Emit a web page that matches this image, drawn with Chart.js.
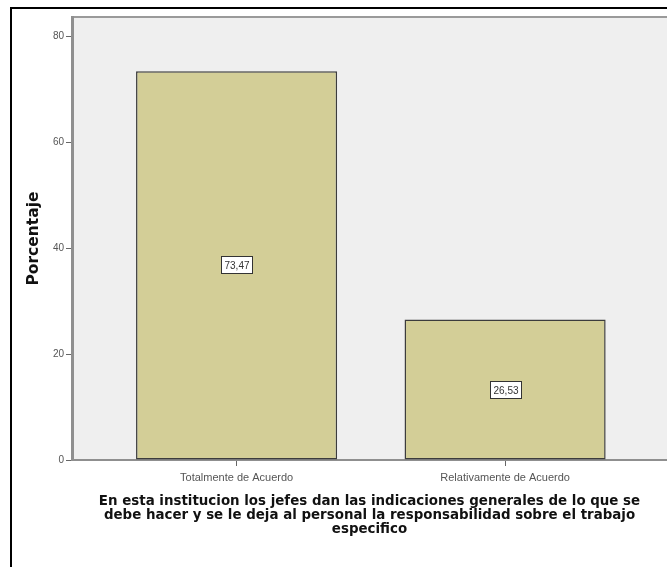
<!DOCTYPE html>
<html>
<head>
<meta charset="utf-8">
<script src="https://cdn.jsdelivr.net/npm/chart.js@4"></script>
<style>
html, body { margin: 0; padding: 0; background: #fff; }
canvas { display: block; }
</style>
</head>
<body>
<canvas id="myChart" width="667" height="567"></canvas>
<script>
var categories = ['Totalmente de Acuerdo', 'Relativamente de Acuerdo'];
var porcentajes = [73.47, 26.53];
var yTicks = [0, 20, 40, 60, 80];
var xTitle = [
    'En esta institucion los jefes dan las indicaciones generales de lo que se',
    'debe hacer y se le deja al personal la responsabilidad sobre el trabajo',
    'especifico'
];

// fondo blanco, marco negro y area gris del grafico + etiquetas en las barras
var fondo = {
    id: 'fondo',
    beforeDraw: function (chart) {
        var c = chart.ctx, a = chart.chartArea;
        c.save();
        c.fillStyle = '#fff';
        c.fillRect(0, 0, chart.width, chart.height);
        c.fillStyle = '#efefef';
        c.fillRect(a.left, a.top, a.right - a.left, a.bottom - a.top);
        c.strokeStyle = '#9a9a9a';
        c.lineWidth = 2;
        c.beginPath();
        c.moveTo(a.left, a.top);
        c.lineTo(a.right, a.top);
        c.stroke();
        c.strokeStyle = '#000';
        c.lineWidth = 2;
        c.beginPath();
        c.moveTo(11, chart.height);
        c.lineTo(11, 8);
        c.lineTo(chart.width, 8);
        c.stroke();
        c.restore();
    },
    afterDatasetsDraw: function (chart) {
        var c = chart.ctx;
        var meta = chart.getDatasetMeta(0);
        c.save();
        c.font = '10px "Liberation Sans"';
        c.textAlign = 'center';
        c.textBaseline = 'middle';
        meta.data.forEach(function (bar, i) {
            var txt = porcentajes[i].toFixed(2).replace('.', ',');
            var y = Math.round((bar.y + bar.base) / 2);
            var w = Math.round(c.measureText(txt).width + 6);
            var x0 = Math.round(bar.x - w / 2);
            c.fillStyle = '#fff';
            c.fillRect(x0, y - 9, w, 18);
            c.strokeStyle = '#333';
            c.lineWidth = 1;
            c.strokeRect(x0 + 0.5, y - 8.5, w, 17);
            c.fillStyle = '#333';
            c.fillText(txt, x0 + w / 2 + 0.5, y + 1);
        });
        c.restore();
    }
};

var ctx = document.getElementById('myChart').getContext('2d');
var myChart = new Chart(ctx, {
    type: 'bar',
    data: {
        datasets: [{
            label: 'Porcentaje',
            data: porcentajes.map(function (v, i) { return { x: i, y: v }; }),
            backgroundColor: '#d3ce97',
            borderColor: '#3c3c3c',
            borderWidth: 1.5,
            borderSkipped: false,
            barPercentage: 0.749,
            categoryPercentage: 1
        }]
    },
    options: {
        responsive: false,
        animation: false,
        devicePixelRatio: 1,
        layout: { padding: { left: 19, top: 17, right: 0, bottom: 0 } },
        plugins: {
            legend: { display: false },
            tooltip: { enabled: false }
        },
        scales: {
            x: {
                type: 'linear',
                min: -0.613,
                max: 1.603,
                offset: false,
                afterBuildTicks: function (s) {
                    s.ticks = categories.map(function (c, i) { return { value: i }; });
                },
                afterFit: function (s) { s.height = 107; },
                ticks: {
                    callback: function (v) { return categories[v]; },
                    font: { family: 'Liberation Sans', size: 11 },
                    color: '#555',
                    padding: 5,
                    maxRotation: 0
                },
                grid: { offset: false, drawOnChartArea: false, tickLength: 6, color: '#666' },
                border: { color: '#8f8f8f', width: 2 },
                title: {
                    display: true,
                    text: xTitle,
                    color: '#111',
                    font: { family: 'DejaVu Sans', size: 13.4, weight: 'bold', lineHeight: 1.04 },
                    padding: { top: 0, bottom: 31 }
                }
            },
            y: {
                min: 0,
                max: 83.7,
                afterBuildTicks: function (s) {
                    s.ticks = yTicks.map(function (v) { return { value: v }; });
                },
                afterFit: function (s) { s.width = 53; },
                ticks: {
                    font: { family: 'Liberation Sans', size: 10 },
                    color: '#555',
                    padding: 2
                },
                grid: { drawOnChartArea: false, tickLength: 6, color: '#666' },
                border: { color: '#8f8f8f', width: 3 },
                title: {
                    display: true,
                    text: 'Porcentaje',
                    color: '#111',
                    font: { family: 'DejaVu Sans', size: 15.5, weight: 'bold' },
                    padding: { top: 6, bottom: 0 }
                }
            }
        }
    },
    plugins: [fondo]
});
</script>
</body>
</html>
